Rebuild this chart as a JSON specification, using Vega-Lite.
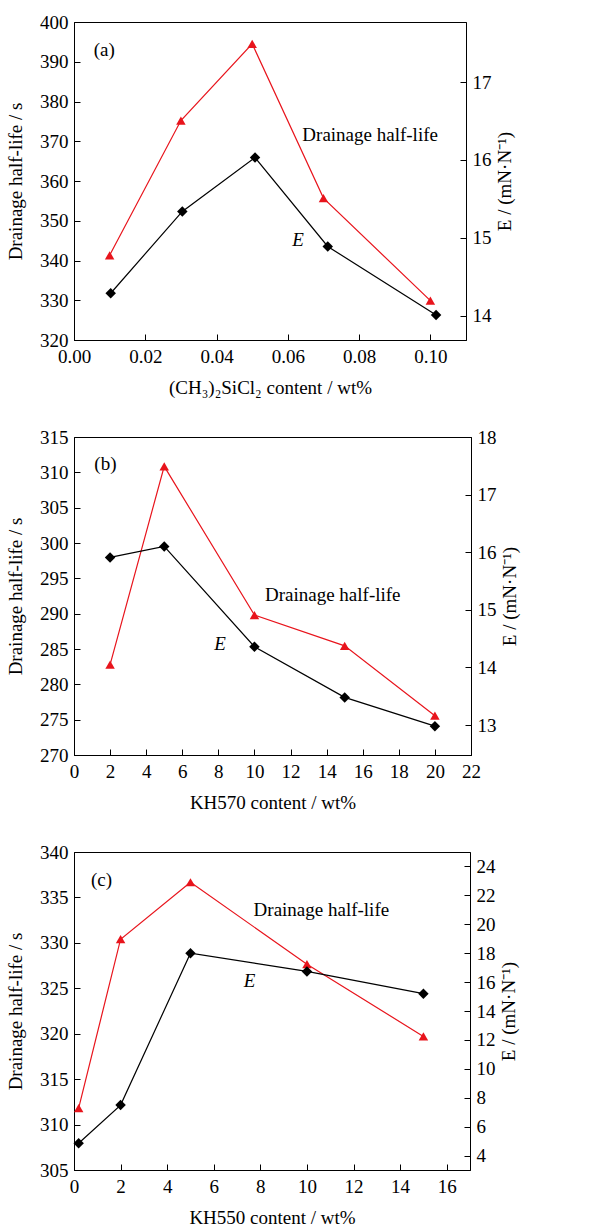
{
  "$schema": "https://vega.github.io/schema/vega-lite/v6.json",
  "background": "white",
  "padding": {"left": 6, "top": 12, "right": 5, "bottom": 0},
  "spacing": 97,
  "bounds": "flush",
  "config": {
    "font": "Liberation Serif",
    "view": {"stroke": "black", "strokeWidth": 1},
    "axis": {
      "labelFont": "Liberation Serif", "titleFont": "Liberation Serif",
      "labelFontSize": 19, "titleFontSize": 19, "titleFontWeight": "normal",
      "labelColor": "black", "titleColor": "black",
      "domainColor": "black", "tickColor": "black", "domainWidth": 1, "tickWidth": 1,
      "grid": false, "tickSize": -6, "labelPadding": 12, "labelOverlap": false, "labelFlush": false
    },
    "axisRight": {"titleAngle": 270, "titleBaseline": "top", "titlePadding": 4},
    "axisLeft": {"titlePadding": 14},
    "axisBottom": {"titlePadding": 12, "labelPadding": 13},
    "text": {"font": "Liberation Serif", "fontSize": 19, "color": "black"}
  },
  "datasets": {
    "a": [
      {"x": 0.01, "y": 341.3, "s": "D"}, {"x": 0.03, "y": 375.2, "s": "D"}, {"x": 0.05, "y": 394.5, "s": "D"}, {"x": 0.07, "y": 355.7, "s": "D"}, {"x": 0.10, "y": 329.9, "s": "D"},
      {"x": 0.0103, "y": 14.29, "s": "E"}, {"x": 0.0304, "y": 15.34, "s": "E"}, {"x": 0.0508, "y": 16.03, "s": "E"}, {"x": 0.0712, "y": 14.89, "s": "E"}, {"x": 0.1016, "y": 14.01, "s": "E"}
    ],
    "b": [
      {"x": 2, "y": 282.8, "s": "D"}, {"x": 5, "y": 310.85, "s": "D"}, {"x": 10, "y": 289.8, "s": "D"}, {"x": 15, "y": 285.45, "s": "D"}, {"x": 20, "y": 275.56, "s": "D"},
      {"x": 2, "y": 15.91, "s": "E"}, {"x": 5, "y": 16.10, "s": "E"}, {"x": 10, "y": 14.36, "s": "E"}, {"x": 15, "y": 13.48, "s": "E"}, {"x": 20, "y": 12.98, "s": "E"}
    ],
    "c": [
      {"x": 0.2, "y": 311.8, "s": "D"}, {"x": 2, "y": 330.4, "s": "D"}, {"x": 5, "y": 336.67, "s": "D"}, {"x": 10, "y": 327.65, "s": "D"}, {"x": 15, "y": 319.7, "s": "D"},
      {"x": 0.2, "y": 4.85, "s": "E"}, {"x": 2, "y": 7.49, "s": "E"}, {"x": 5, "y": 18.0, "s": "E"}, {"x": 10, "y": 16.74, "s": "E"}, {"x": 15, "y": 15.2, "s": "E"}
    ],
    "la": [{"x": 0.0085, "y": 393, "t": "(a)"}, {"x": 0.0831, "y": 371.6, "t": "Drainage half-life"}],
    "lae": [{"x": 0.0629, "y": 345.2, "t": "E"}],
    "lb": [{"x": 1.74, "y": 311.2, "t": "(b)"}, {"x": 14.34, "y": 292.65, "t": "Drainage half-life"}],
    "lbe": [{"x": 8.09, "y": 285.7, "t": "E"}],
    "lc": [{"x": 1.18, "y": 336.9, "t": "(c)"}, {"x": 10.62, "y": 333.6, "t": "Drainage half-life"}],
    "lce": [{"x": 7.54, "y": 325.8, "t": "E"}]
  },
  "vconcat": [
    {
      "width": 392, "height": 318,
      "data": {"name": "a"},
      "encoding": {"x": {"field": "x", "type": "quantitative", "scale": {"domain": [0, 0.11], "nice": false, "zero": false}, "axis": {"values": [0, 0.02, 0.04, 0.06, 0.08, 0.1], "format": ".2f", "title": "(CH₃)₂SiCl₂ content / wt%"}}},
      "layer": [
        {
          "encoding": {"y": {"field": "y", "type": "quantitative", "scale": {"domain": [320, 400], "nice": false, "zero": false}, "axis": {"values": [320, 330, 340, 350, 360, 370, 380, 390, 400], "title": "Drainage half-life / s"}}},
          "layer": [
            {"transform": [{"filter": "datum.s === 'D'"}], "mark": {"type": "line", "color": "#e8141c", "strokeWidth": 1.2, "point": {"shape": "triangle-up", "filled": true, "size": 90, "color": "#e8141c"}}},
            {"data": {"name": "la"}, "mark": {"type": "text", "align": "center", "baseline": "middle"}, "encoding": {"text": {"field": "t"}}},
            {"data": {"name": "lae"}, "mark": {"type": "text", "align": "center", "baseline": "middle", "fontStyle": "italic"}, "encoding": {"text": {"field": "t"}}}
          ]
        },
        {"transform": [{"filter": "datum.s === 'E'"}], "mark": {"type": "line", "color": "black", "strokeWidth": 1.2, "point": {"shape": "diamond", "filled": true, "size": 110, "color": "black"}},
         "encoding": {"y": {"field": "y", "type": "quantitative", "scale": {"domain": [13.69, 17.77], "nice": false, "zero": false}, "axis": {"orient": "right", "values": [14, 15, 16, 17], "title": "E / (mN·N⁻¹)"}}}}
      ],
      "resolve": {"scale": {"y": "independent"}}
    },
    {
      "width": 397, "height": 318,
      "data": {"name": "b"},
      "encoding": {"x": {"field": "x", "type": "quantitative", "scale": {"domain": [0, 22], "nice": false, "zero": false}, "axis": {"values": [0, 2, 4, 6, 8, 10, 12, 14, 16, 18, 20, 22], "title": "KH570 content / wt%"}}},
      "layer": [
        {
          "encoding": {"y": {"field": "y", "type": "quantitative", "scale": {"domain": [270, 315], "nice": false, "zero": false}, "axis": {"values": [270, 275, 280, 285, 290, 295, 300, 305, 310, 315], "title": "Drainage half-life / s"}}},
          "layer": [
            {"transform": [{"filter": "datum.s === 'D'"}], "mark": {"type": "line", "color": "#e8141c", "strokeWidth": 1.2, "point": {"shape": "triangle-up", "filled": true, "size": 90, "color": "#e8141c"}}},
            {"data": {"name": "lb"}, "mark": {"type": "text", "align": "center", "baseline": "middle"}, "encoding": {"text": {"field": "t"}}},
            {"data": {"name": "lbe"}, "mark": {"type": "text", "align": "center", "baseline": "middle", "fontStyle": "italic"}, "encoding": {"text": {"field": "t"}}}
          ]
        },
        {"transform": [{"filter": "datum.s === 'E'"}], "mark": {"type": "line", "color": "black", "strokeWidth": 1.2, "point": {"shape": "diamond", "filled": true, "size": 110, "color": "black"}},
         "encoding": {"y": {"field": "y", "type": "quantitative", "scale": {"domain": [12.48, 18], "nice": false, "zero": false}, "axis": {"orient": "right", "values": [13, 14, 15, 16, 17, 18], "title": "E / (mN·N⁻¹)"}}}}
      ],
      "resolve": {"scale": {"y": "independent"}}
    },
    {
      "width": 396, "height": 318,
      "data": {"name": "c"},
      "encoding": {"x": {"field": "x", "type": "quantitative", "scale": {"domain": [0, 17], "nice": false, "zero": false}, "axis": {"values": [0, 2, 4, 6, 8, 10, 12, 14, 16], "title": "KH550 content / wt%"}}},
      "layer": [
        {
          "encoding": {"y": {"field": "y", "type": "quantitative", "scale": {"domain": [305, 340], "nice": false, "zero": false}, "axis": {"values": [305, 310, 315, 320, 325, 330, 335, 340], "title": "Drainage half-life / s"}}},
          "layer": [
            {"transform": [{"filter": "datum.s === 'D'"}], "mark": {"type": "line", "color": "#e8141c", "strokeWidth": 1.2, "point": {"shape": "triangle-up", "filled": true, "size": 90, "color": "#e8141c"}}},
            {"data": {"name": "lc"}, "mark": {"type": "text", "align": "center", "baseline": "middle"}, "encoding": {"text": {"field": "t"}}},
            {"data": {"name": "lce"}, "mark": {"type": "text", "align": "center", "baseline": "middle", "fontStyle": "italic"}, "encoding": {"text": {"field": "t"}}}
          ]
        },
        {"transform": [{"filter": "datum.s === 'E'"}], "mark": {"type": "line", "color": "black", "strokeWidth": 1.2, "point": {"shape": "diamond", "filled": true, "size": 110, "color": "black"}},
         "encoding": {"y": {"field": "y", "type": "quantitative", "scale": {"domain": [3, 25], "nice": false, "zero": false}, "axis": {"orient": "right", "values": [4, 6, 8, 10, 12, 14, 16, 18, 20, 22, 24], "title": "E / (mN·N⁻¹)"}}}}
      ],
      "resolve": {"scale": {"y": "independent"}}
    }
  ]
}
